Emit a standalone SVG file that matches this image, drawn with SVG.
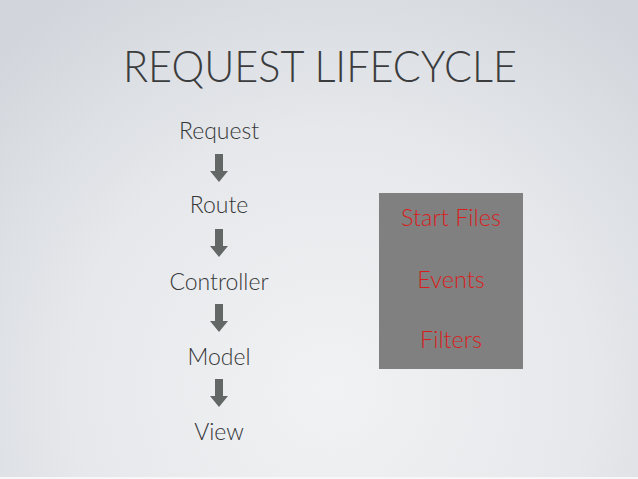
<svg xmlns="http://www.w3.org/2000/svg" width="638" height="479" viewBox="0 0 638 479">
  <defs>
    <radialGradient id="bg" cx="330" cy="390" r="470" gradientUnits="userSpaceOnUse">
      <stop offset="0" stop-color="#f1f2f4"/>
      <stop offset="0.55" stop-color="#e6e8eb"/>
      <stop offset="1" stop-color="#d2d6dc"/>
    </radialGradient>
    <style>
      .title { font-family: Lato, "Open Sans", "Liberation Sans", sans-serif; font-weight: 300; font-size: 43px; fill: #3b3c3d; }
      .step { font-family: Lato, "Open Sans", "Liberation Sans", sans-serif; font-weight: 300; font-size: 23px; fill: #363738; text-anchor: middle; }
      .item { font-family: Lato, "Open Sans", "Liberation Sans", sans-serif; font-weight: 300; font-size: 23.5px; fill: #d81e1c; text-anchor: middle; }
      .arrow { fill: #636866; }
    </style>
    <!-- downward block arrow, origin at shaft top centre -->
    <path id="down" d="M -4 0 H 4 V 17 H 9 L 0 28 L -9 17 H -4 Z"/>
  </defs>

  <rect width="638" height="479" fill="url(#bg)"/>
  <rect x="0" y="477" width="638" height="2" fill="#f6f7f8"/>

  <text class="title" x="123" y="82" textLength="394" lengthAdjust="spacingAndGlyphs">REQUEST LIFECYCLE</text>

  <g id="request"><text class="step" x="219" y="139">Request</text></g>
  <g id="route"><text class="step" x="219" y="213">Route</text></g>
  <g id="controller"><text class="step" x="219" y="290">Controller</text></g>
  <g id="model"><text class="step" x="219" y="365">Model</text></g>
  <g id="view"><text class="step" x="219" y="440">View</text></g>

  <g id="connectors" class="arrow">
    <use href="#down" x="219" y="154"/>
    <use href="#down" x="219" y="229"/>
    <use href="#down" x="219" y="304"/>
    <use href="#down" x="219" y="379"/>
  </g>

  <g id="hooks">
    <rect x="379" y="193" width="144" height="176" fill="#808080"/>
    <text class="item" x="451" y="226">Start Files</text>
    <text class="item" x="451" y="288">Events</text>
    <text class="item" x="451" y="348">Filters</text>
  </g>
</svg>
